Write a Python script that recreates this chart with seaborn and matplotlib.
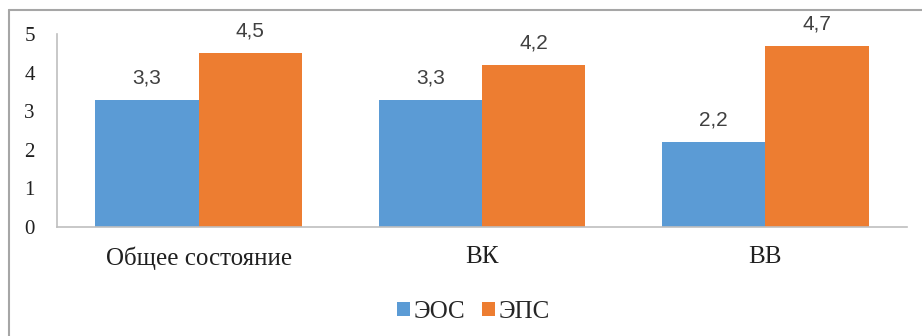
import pandas as pd
import matplotlib.pyplot as plt
import seaborn as sns
from matplotlib.lines import Line2D

categories = ['Общее состояние', 'ВК', 'ВВ']
series = ['ЭОС', 'ЭПС']
eos_values = [3.3, 3.3, 2.2]
eps_values = [4.5, 4.2, 4.7]
colors = ['#5B9BD5', '#ED7D31']

df = pd.DataFrame({
    'category': categories * 2,
    'series': [series[0]] * 3 + [series[1]] * 3,
    'value': eos_values + eps_values,
})

sns.set_style("white")
plt.rcParams['font.family'] = ['Liberation Serif', 'DejaVu Serif']

fig = plt.figure(figsize=(9.22, 3.36), dpi=100)
ax = fig.add_axes([0.0618, 0.3244, 0.9219, 0.5744])

sns.barplot(data=df, x='category', y='value', hue='series',
            palette=colors, width=0.73, gap=0, saturation=1,
            edgecolor='none', ax=ax)

for cont in ax.containers:
    ax.bar_label(cont, labels=[f"{b.get_height():.1f}".replace('.', ',')
                               for b in cont],
                 padding=9, fontsize=15, color='#404040',
                 family=['Liberation Sans', 'DejaVu Sans'])

ax.set_ylim(0, 5)
ax.set_yticks(range(0, 6))
ax.set_xlim(-0.5, 2.5)
ax.set(xlabel='', ylabel='')
ax.tick_params(axis='y', labelsize=15, pad=16, length=0)
ax.tick_params(axis='x', labelsize=18, pad=14, length=0)
for lbl in ax.get_yticklabels() + ax.get_xticklabels():
    lbl.set_color('#202020')

for side in ['top', 'right']:
    ax.spines[side].set_visible(False)
for side in ['left', 'bottom']:
    ax.spines[side].set_color('#BFBFBF')
    ax.spines[side].set_linewidth(1.2)

ax.legend(loc='center', bbox_to_anchor=(0.49, -0.44), ncol=2,
          frameon=False, fontsize=18, handlelength=0.52, handleheight=0.52,
          handletextpad=0.15, columnspacing=0.65, borderpad=0)

# outer chart frame (cut off at right and bottom in the original)
fig.add_artist(Line2D([9 / 922, 1.0], [1 - 10 / 336] * 2,
                      color='#A6A6A6', lw=1.5))
fig.add_artist(Line2D([9 / 922] * 2, [0.0, 1 - 10 / 336],
                      color='#A6A6A6', lw=1.5))

fig.savefig('out.png', dpi=100)
